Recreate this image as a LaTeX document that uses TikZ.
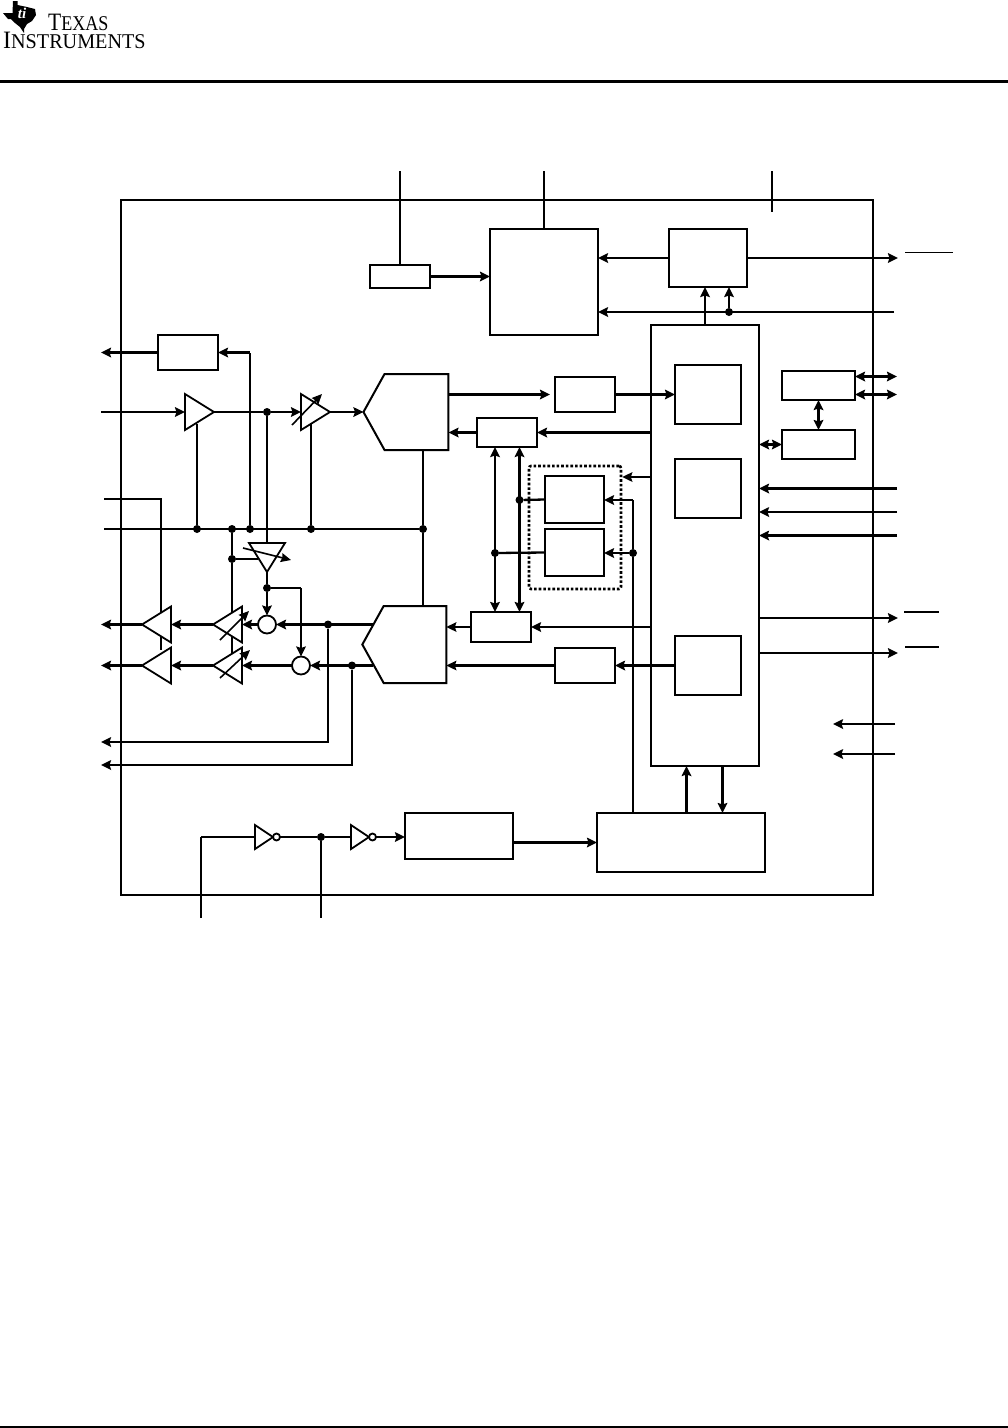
\documentclass[tikz,border=0pt]{standalone}
\usepackage{fontspec}
\setmainfont{Liberation Serif}
\usetikzlibrary{shapes.geometric,shapes.symbols,arrows.meta}

\tikzset{
  block/.style={draw, line width=2.3pt, fill=white, inner sep=0pt, outer sep=0pt},
  dot/.style={circle, fill=black, inner sep=0pt, outer sep=0pt, minimum size=8pt},
  summer/.style={circle, draw, line width=1.8pt, fill=white, inner sep=0pt, outer sep=0pt, minimum size=18pt},
  bubble/.style={circle, draw, line width=1.8pt, fill=white, inner sep=0pt, outer sep=0pt, minimum size=7pt},
  amp/.style={isosceles triangle, isosceles triangle stretches, draw, line width=1.8pt, fill=white,
    inner sep=0pt, outer sep=0pt, anchor=apex, minimum width=36pt, minimum height=29pt},
  conv/.style={signal, draw, line width=2pt, fill=white, inner sep=0pt, outer sep=0pt,
    signal to=west, signal from=nowhere, signal pointer angle=122},
  logotext/.style={anchor=base west, inner sep=0pt, text height=15pt, text depth=0pt},
  wire/.style={line width=2.8pt},
  pin/.style={line width=2.3pt},
  trim/.style={line width=1.6pt, -{Stealth[length=10pt,width=9pt,inset=1pt]}}
}

\begin{document}
\begin{tikzpicture}[x=1pt, y=-1pt, >={Stealth[length=10pt,width=9.5pt,inset=1.5pt]}, line cap=butt]
    \useasboundingbox (0,0) rectangle (1008,1428);

    % page furniture
    \draw[line width=3pt] (0,81) coordinate (hl) -- (1008,81) coordinate (hr);
    \draw[line width=2pt] (0,1427) coordinate (fl) -- (1008,1427) coordinate (fr);
    \fill (12.5,13) -- (13,1) -- (17.5,1) -- (17.5,5) -- (27,7) -- (35,9) -- (36,15) -- (32,21)
      -- (27,24) -- (24,29) -- (24,33) -- (20,27) -- (15,23) -- (11,19) -- (8,19) -- (3,13) -- cycle;
    \node[anchor=center, text=white, font=\fontsize{15}{15}\selectfont\itshape\bfseries] (tilogo) at (22,13) {ti};
    \node[logotext, font=\fontsize{21}{21}\selectfont, xscale=0.86] (texas) at (48,30)
      {{\fontsize{25}{25}\selectfont T}EXAS};
    \node[logotext, font=\fontsize{21}{21}\selectfont, xscale=0.96] (instr) at (3,48)
      {{\fontsize{25}{25}\selectfont I}NSTRUMENTS};

    % outer frame
    \node[draw, line width=2.3pt, inner sep=0pt, minimum width=752pt, minimum height=695pt] (chip) at (497,547.5) {};

    % digital side
    \node[block, minimum width=108pt, minimum height=441pt] (core) at (705,545.5) {};
    \node[block, minimum width=66pt, minimum height=59pt] (blka) at (708,394.5) {};
    \node[block, minimum width=66pt, minimum height=59pt] (blkb) at (708,488.5) {};
    \node[block, minimum width=66pt, minimum height=59pt] (blkc) at (708,665.5) {};
    \node[block, minimum width=60pt, minimum height=23pt] (osc) at (400,276.5) {};
    \node[block, minimum width=108pt, minimum height=106pt] (ctrl) at (544,282) {};
    \node[block, minimum width=78pt, minimum height=58pt] (serial) at (708,258) {};
    \node[block, minimum width=73pt, minimum height=29pt] (ifa) at (818.5,385.5) {};
    \node[block, minimum width=73pt, minimum height=29pt] (ifb) at (818.5,444.5) {};
    \node[block, minimum width=60pt, minimum height=35pt] (filta) at (585,394.5) {};
    \node[block, minimum width=60pt, minimum height=29pt] (muxa) at (507,432.5) {};
    \node[block, minimum width=60pt, minimum height=30pt] (muxb) at (501,627) {};
    \node[block, minimum width=60pt, minimum height=35pt] (filtb) at (585,665.5) {};
    \node[block, minimum width=59pt, minimum height=47pt] (rama) at (574.5,499.5) {};
    \node[block, minimum width=59pt, minimum height=47pt] (ramb) at (574.5,552.5) {};
    \node[draw, dotted, line width=2.6pt, rounded corners=2pt, inner sep=0pt, minimum width=92pt, minimum height=123pt]
      (ramgrp) at (575,527.5) {};
    \node[block, minimum width=168pt, minimum height=59pt] (pwr) at (681,842.5) {};
    \node[block, minimum width=108pt, minimum height=46pt] (clk) at (459,836) {};
    \node[block, minimum width=60pt, minimum height=35pt] (bias) at (188,352.5) {};

    % pins on top
    \coordinate (ptop1) at (400,171);
    \coordinate (ptop2) at (544,171);
    \coordinate (ptop3) at (772,171);
    \coordinate (ptop3e) at (772,212);
    \draw[pin] (ptop1) -- (osc.north);
    \draw[pin] (ptop2) -- (ctrl.north);
    \draw[pin] (ptop3) -- (ptop3e);

    \draw[wire, ->] (osc.east) -- (ctrl.west |- osc.east);
    \draw[wire, ->] (serial.west) -- (ctrl.east |- serial.west);
    \coordinate (prt) at (898,258);
    \draw[wire, ->] (serial.east) -- (prt);
    \draw[line width=1.2pt] (905,252.5) coordinate (bara) -- (953,252.5) coordinate (barb);

    \coordinate (prst) at (894,312);
    \node[dot] (jrst) at (729,312) {};
    \draw[wire, ->] (prst) -- (ctrl.east |- prst);
    \draw[pin, ->] (jrst) -- (jrst |- serial.south);
    \draw[pin, ->] (core.north) -- (core.north |- serial.south);

    % right hand pins
    \coordinate (pioa) at (897,376.5);
    \coordinate (piob) at (897,394.5);
    \draw[wire, <->] (ifa.east |- pioa) -- (pioa);
    \draw[pin, <->] (ifa.east |- piob) -- (piob);
    \draw[pin, <->] (ifa.south) -- (ifb.north);
    \draw[pin, <->] (core.east |- ifb.west) -- (ifb.west);
    \coordinate (pina) at (897,488.5);
    \coordinate (pinb) at (897,512);
    \coordinate (pinc) at (897,535.5);
    \draw[pin, ->] (pina) -- (core.east |- pina);
    \draw[pin, ->] (pinb) -- (core.east |- pinb);
    \draw[pin, ->] (pinc) -- (core.east |- pinc);
    \coordinate (pouta) at (898,618);
    \coordinate (poutb) at (898,653);
    \draw[wire, ->] (core.east |- pouta) -- (pouta);
    \draw[wire, ->] (core.east |- poutb) -- (poutb);
    \draw[line width=1.2pt] (904,612) coordinate (barc) -- (939,612) coordinate (bard);
    \draw[line width=1.2pt] (905,647) coordinate (bare) -- (939,647) coordinate (barf);
    \coordinate (pbka) at (895,724);
    \coordinate (pbkae) at (833,724);
    \coordinate (pbkb) at (895,754);
    \coordinate (pbkbe) at (833,754);
    \draw[wire, ->] (pbka) -- (pbkae);
    \draw[wire, ->] (pbkb) -- (pbkbe);

    % core to power block
    \draw[pin, ->] (686.5,813) coordinate (pwra) -- (pwra |- core.south);
    \draw[pin, ->] (722.5,766) coordinate (pwrb) -- (pwrb |- pwr.north);

    % memory group
    \node[dot] (jvdd) at (633,553) {};
    \coordinate (pwrc) at (633,813);
    \coordinate (pwrd) at (633,500);
    \draw[pin] (pwrc) -- (jvdd) -- (pwrd);
    \draw[pin, ->] (pwrd) -- (rama.east |- pwrd);
    \draw[pin, ->] (jvdd) -- (ramb.east |- jvdd);
    \coordinate (coremem) at (651,477);
    \draw[pin, ->] (coremem) -- (ramgrp.east |- coremem);

    \node[dot] (jbusa) at (495,553) {};
    \node[dot] (jbusb) at (519.5,500) {};
    \draw[wire, <->] (495,447) coordinate (busat) -- (495,612) coordinate (busab);
    \draw[wire, <->] (519.5,447) coordinate (busbt) -- (519.5,612) coordinate (busbb);
    \draw[pin] (jbusa) -- (ramb.west);
    \draw[pin] (jbusb) -- (rama.west);

    % data paths
    \draw[pin, ->] (filta.east) -- (blka.west);
    \draw[pin, ->] (core.west |- muxa.east) -- (muxa.east);
    \draw[wire, ->] (core.west |- muxb.east) -- (muxb.east);
    \draw[wire, ->] (blkc.west) -- (filtb.east);

    % converters
    \node[conv, minimum width=85pt, minimum height=76pt, anchor=center] (adc) at (416.5,412) {};
    \node[conv, minimum width=84pt, minimum height=77pt, anchor=center] (dac) at (415,644.5) {};

    \draw[pin, ->] (adc.east |- filta.west) -- (550,394.5) coordinate (filtin);
    \draw[pin, ->] (muxa.west) -- (adc.east |- muxa.west);
    \draw[pin, ->] (muxb.west) -- (dac.east |- muxb.west);
    \draw[pin, ->] (filtb.west) -- (dac.east |- filtb.west);

    % analog side
    \node[dot] (jbias) at (232,529) {};
    \node[dot] (jbiasb) at (250,529) {};
    \node[dot] (jamp) at (197,529) {};
    \node[dot] (jpga) at (311,529) {};
    \node[dot] (jconv) at (423,529) {};
    \node[dot] (jside) at (232,559) {};
    \node[dot] (jin) at (267,412) {};
    \node[dot] (jfb) at (267,588) {};
    \node[dot] (jhpl) at (328,624.5) {};
    \node[dot] (jhpr) at (352,665.5) {};
    \coordinate (pref) at (104,529);
    \coordinate (pcap) at (104,499);
    \coordinate (capb) at (161,499);
    \coordinate (capd) at (161,650);
    \draw[wire] (pref) -- (jconv);
    \draw[pin] (pcap) -- (capb) -- (capd);
    \draw[pin] (adc.south -| jconv) -- (jconv) -- (dac.north -| jconv);
    \draw[pin] (jbias) -- (jside) -- (232,655) coordinate (sidee);
    \draw[wire] (jbiasb) -- (250,352.5) coordinate (bt);
    \draw[wire, ->] (bt) -- (bias.east);
    \coordinate (pbias) at (101,352.5);
    \draw[wire, ->] (bias.west) -- (pbias);

    % input chain
    \node[amp, shape border rotate=0] (lna) at (214,412) {};
    \node[amp, shape border rotate=0] (pga) at (330,412) {};
    \coordinate (pmic) at (101,412);
    \draw[wire, ->] (pmic) -- (lna.west |- pmic);
    \draw[wire] (lna.apex) -- (jin);
    \draw[wire, ->] (jin) -- (pga.west |- jin);
    \draw[pin, ->] (pga.apex) -- (adc.west);
    \draw[pin] (jamp) -- (197,424) coordinate (lnab);
    \draw[pin] (jpga) -- (311,424) coordinate (pgab);
    \draw[trim] (292,425) coordinate (trma) -- (322,394) coordinate (trmb);

    % sidetone amp
    \node[amp, shape border rotate=270, minimum width=36pt, minimum height=29pt] (sta) at (267,572) {};
    \draw[wire] (jin) -- (jin |- sta.left corner);
    \draw[pin] (jside) -- (258,559) coordinate (stain);
    \draw[trim] (243,548) coordinate (trmc) -- (291,560) coordinate (trmd);

    % summers and output chain
    \node[summer] (suml) at (267,624.5) {};
    \node[summer] (sumr) at (301,665.5) {};
    \draw[wire] (sta.apex) -- (jfb);
    \draw[wire, ->] (jfb) -- (suml.north);
    \coordinate (fbc) at (301,588);
    \draw[wire] (jfb) -- (fbc);
    \draw[pin, ->] (fbc) -- (sumr.north);

    \node[amp, shape border rotate=180] (vola) at (213,624.5) {};
    \node[amp, shape border rotate=180] (volb) at (213,665.5) {};
    \node[amp, shape border rotate=180] (hpa) at (142,624.5) {};
    \node[amp, shape border rotate=180] (hpb) at (142,665.5) {};

    \draw[wire, ->] (dac.west |- jhpl) ++(11,0) -- (suml.east);
    \draw[wire, ->] (dac.west |- jhpr) ++(11,0) -- (sumr.east);
    \draw[pin, ->] (suml.west) -- (vola.east |- suml.west);
    \draw[pin, ->] (sumr.west) -- (volb.east |- sumr.west);
    \draw[pin, ->] (vola.apex) -- (hpa.east |- vola.apex);
    \draw[pin, ->] (volb.apex) -- (hpb.east |- volb.apex);
    \coordinate (phpa) at (101,624.5);
    \coordinate (phpb) at (101,665.5);
    \draw[pin, ->] (hpa.apex) -- (phpa);
    \draw[pin, ->] (hpb.apex) -- (phpb);
    \draw[trim] (220,640) coordinate (trme) -- (249,611) coordinate (trmf);
    \draw[trim] (220,678) coordinate (trmg) -- (250,650) coordinate (trmh);

    \coordinate (plinea) at (101,742);
    \coordinate (plineb) at (101,765);
    \draw[pin, ->] (jhpl) |- (plinea);
    \draw[pin, ->] (jhpr) |- (plineb);

    % clock chain
    \node[amp, shape border rotate=0, minimum width=24pt, minimum height=18pt] (inva) at (273,837) {};
    \node[amp, shape border rotate=0, minimum width=24pt, minimum height=18pt] (invb) at (369,837) {};
    \node[bubble] (bubba) at (276.5,837) {};
    \node[bubble] (bubbb) at (372.5,837) {};
    \node[dot] (jclk) at (321,837) {};
    \coordinate (pxin) at (201,918);
    \coordinate (xinc) at (201,837);
    \coordinate (pxout) at (321,918);
    \draw[pin] (pxin) -- (xinc);
    \draw[wire] (xinc) -- (inva.west |- xinc);
    \draw[wire] (bubba.east) -- (jclk) -- (invb.west |- jclk);
    \draw[pin] (jclk) -- (pxout);
    \draw[pin, ->] (bubbb.east) -- (clk.west |- bubbb.east);
    \draw[pin, ->] (clk.east |- pwr.west) -- (pwr.west);
\end{tikzpicture}
\end{document}
